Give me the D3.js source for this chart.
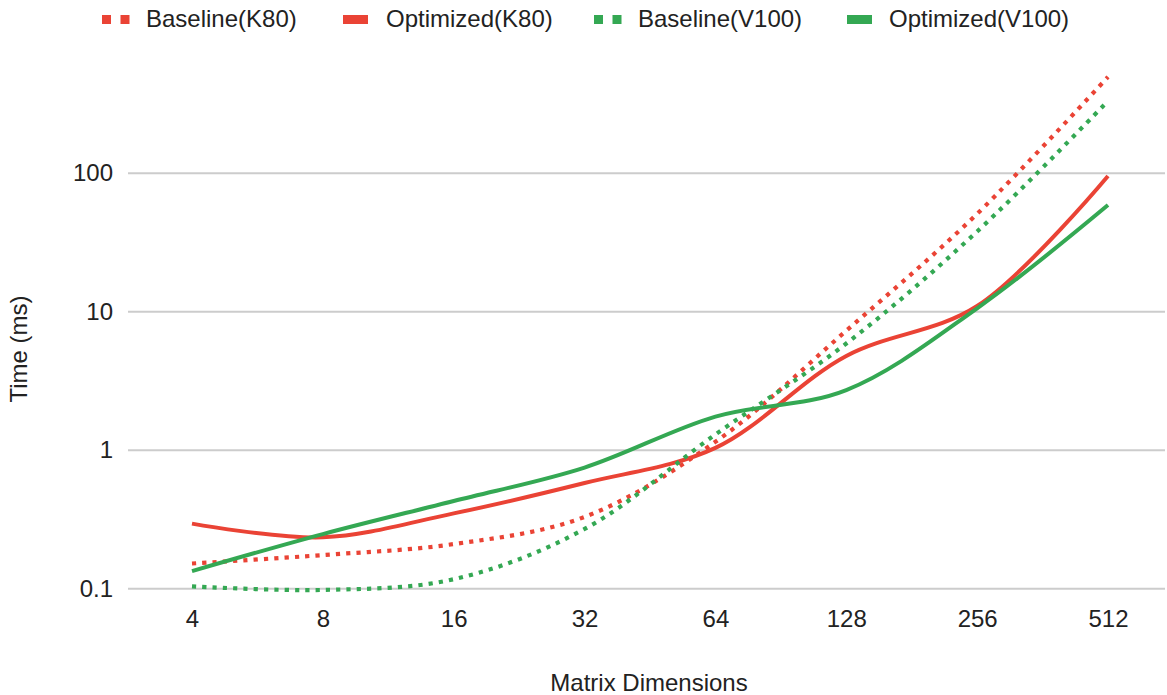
<!DOCTYPE html>
<html>
<head>
<meta charset="utf-8">
<script src="https://cdn.jsdelivr.net/npm/d3@7"></script>
<style>
  html, body { margin: 0; padding: 0; background: #fff; }
  text { font-family: Arial, "Liberation Sans", sans-serif; fill: #222; }
</style>
</head>
<body>
<svg id="chart" width="1167" height="695"></svg>
<script>
const categories = ["4", "8", "16", "32", "64", "128", "256", "512"];
const baselineK80 = [0.152, 0.175, 0.21, 0.33, 1.15, 7.3, 51, 497];
const optimizedK80 = [0.295, 0.235, 0.35, 0.58, 1.04, 4.8, 11.0, 95.6];
const baselineV100 = [0.104, 0.098, 0.117, 0.27, 1.3, 5.9, 38, 333];
const optimizedV100 = [0.134, 0.248, 0.43, 0.75, 1.75, 2.72, 10.6, 59];
const yTicks = [0.1, 1, 10, 100];
const yTickLabels = ["0.1", "1", "10", "100"];

const seriesList = [
  { name: "Baseline(K80)", values: baselineK80, color: "#ea4335", dotted: true },
  { name: "Optimized(K80)", values: optimizedK80, color: "#ea4335", dotted: false },
  { name: "Baseline(V100)", values: baselineV100, color: "#34a853", dotted: true },
  { name: "Optimized(V100)", values: optimizedV100, color: "#34a853", dotted: false }
];

const svg = d3.select("#chart");
svg.append("rect").attr("width", 1167).attr("height", 695).attr("fill", "#fff");

const gridLeft = 128, gridRight = 1165;
const x = d3.scalePoint().domain(categories).range([192, 1108]);
const y = d3.scaleLog().domain([0.1, 100]).range([588.7, 173.3]);

// gridlines
svg.append("g").selectAll("line").data(yTicks).join("line")
  .attr("x1", gridLeft).attr("x2", gridRight)
  .attr("y1", d => y(d)).attr("y2", d => y(d))
  .attr("stroke", "#cccccc").attr("stroke-width", 2);

// y axis labels
const yAxis = d3.axisLeft(y).tickValues(yTicks)
  .tickFormat((d, i) => yTickLabels[i]).tickSize(0).tickPadding(15);
const gy = svg.append("g").attr("transform", `translate(${gridLeft},0)`).call(yAxis);
gy.select(".domain").remove();
gy.selectAll("text").attr("font-size", 24).attr("fill", "#222")
  .attr("font-family", "Arial, 'Liberation Sans', sans-serif");

// x axis labels
const xAxis = d3.axisBottom(x).tickSize(0).tickPadding(21);
const gx = svg.append("g").attr("transform", `translate(0,${y(0.1)})`).call(xAxis);
gx.select(".domain").remove();
gx.selectAll("text").attr("font-size", 24).attr("fill", "#222")
  .attr("font-family", "Arial, 'Liberation Sans', sans-serif");

// axis titles
svg.append("text").attr("x", 649).attr("y", 691).attr("text-anchor", "middle")
  .attr("font-size", 24).text("Matrix Dimensions");
svg.append("text").attr("transform", "translate(27,349) rotate(-90)")
  .attr("text-anchor", "middle").attr("font-size", 24).text("Time (ms)");

// lines
const line = d3.line()
  .x((d, i) => x(categories[i]))
  .y(d => y(d))
  .curve(d3.curveCatmullRom.alpha(0.5));

svg.append("g").selectAll("path").data(seriesList).join("path")
  .attr("d", d => line(d.values))
  .attr("fill", "none")
  .attr("stroke", d => d.color)
  .attr("stroke-width", d => d.dotted ? 4.2 : 4)
  .attr("stroke-dasharray", d => d.dotted ? "4.2,6.1" : null);

// legend
const legendPos = [
  { sx: 102, tx: 146 },
  { sx: 343, tx: 386 },
  { sx: 594, tx: 638 },
  { sx: 847, tx: 889 }
];
const lg = svg.append("g");
seriesList.forEach((s, i) => {
  const p = legendPos[i];
  if (s.dotted) {
    lg.append("line").attr("x1", p.sx).attr("x2", p.sx + 27.5)
      .attr("y1", 19.5).attr("y2", 19.5)
      .attr("stroke", s.color).attr("stroke-width", 9)
      .attr("stroke-dasharray", "9,9.5");
  } else {
    lg.append("line").attr("x1", p.sx).attr("x2", p.sx + 25)
      .attr("y1", 19.5).attr("y2", 19.5)
      .attr("stroke", s.color).attr("stroke-width", 9);
  }
  lg.append("text").attr("x", p.tx).attr("y", 27).attr("font-size", 24).text(s.name);
});
</script>
</body>
</html>
